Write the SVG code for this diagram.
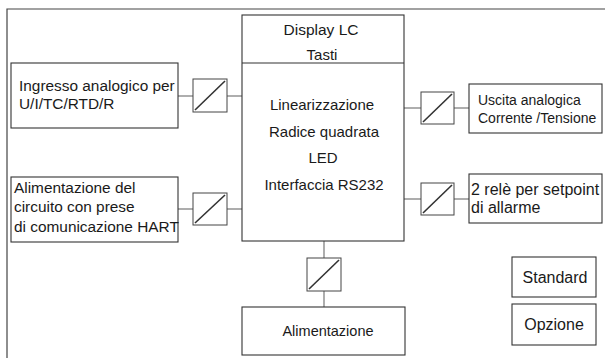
<svg xmlns="http://www.w3.org/2000/svg" width="605" height="358" viewBox="0 0 605 358">
<style>
.box{fill:#fff;stroke:#333;stroke-width:1.1}
.conv{fill:#fff;stroke:#444;stroke-width:1}
.diag{stroke:#333;stroke-width:1.6}
.wire{stroke:#777;stroke-width:1.2;fill:none}
.frame{stroke:#444;stroke-width:1.2;fill:none}
text{font-family:"Liberation Sans",Arial,sans-serif;fill:#1a1a1a}
.l{font-size:15.4px}
.r{font-size:14px}
.c{font-size:15px;text-anchor:middle}
.k{font-size:16px;text-anchor:middle}
</style>
<rect width="605" height="358" fill="#fff"/>
<path class="frame" d="M7 358V9H605"/>
<g id="connectors">
<line class="wire" x1="178" y1="96" x2="193" y2="96"/>
<line class="wire" x1="227" y1="96" x2="242" y2="96"/>
<line class="wire" x1="178" y1="209" x2="193" y2="209"/>
<line class="wire" x1="227" y1="209" x2="242" y2="209"/>
<line class="wire" x1="404" y1="108" x2="421" y2="108"/>
<line class="wire" x1="454" y1="108" x2="469" y2="108"/>
<line class="wire" x1="404" y1="199" x2="421" y2="199"/>
<line class="wire" x1="454" y1="199" x2="469" y2="199"/>
<line class="wire" x1="324" y1="241" x2="324" y2="258"/>
<line class="wire" x1="324" y1="291" x2="324" y2="307"/>
</g>
<g id="main">
<rect class="box" x="242" y="15" width="162" height="226"/>
<line class="box" x1="242" y1="63" x2="404" y2="63"/>
<text class="c" x="321" y="35" style="font-size:15.5px">Display LC</text>
<text class="c" x="322" y="60">Tasti</text>
<text class="c" x="322" y="110">Linearizzazione</text>
<text class="c" x="324" y="137">Radice quadrata</text>
<text class="c" x="323" y="163">LED</text>
<text class="c" x="324" y="190">Interfaccia RS232</text>
</g>
<g id="input">
<rect class="box" x="11" y="63" width="167" height="65"/>
<text class="l" x="19" y="91">Ingresso analogico per</text>
<text class="l" x="19" y="109">U/I/TC/RTD/R</text>
</g>
<g id="conv1">
<rect class="conv" x="193" y="79" width="34" height="33"/>
<line class="diag" x1="195" y1="110" x2="225" y2="81"/>
</g>
<g id="loop">
<rect class="box" x="11" y="177" width="167" height="65"/>
<text class="l" x="14" y="193">Alimentazione del</text>
<text class="l" x="14" y="212">circuito con prese</text>
<text class="l" x="14" y="232">di comunicazione HART</text>
</g>
<g id="conv2">
<rect class="conv" x="193" y="193" width="34" height="32"/>
<line class="diag" x1="195" y1="223" x2="225" y2="195"/>
</g>
<g id="conv3">
<rect class="conv" x="421" y="92" width="33" height="32"/>
<line class="diag" x1="423" y1="122" x2="452" y2="94"/>
</g>
<g id="output">
<rect class="box" x="469" y="84" width="133" height="49"/>
<text class="r" x="478" y="105">Uscita analogica</text>
<text class="r" x="478" y="123">Corrente /Tensione</text>
</g>
<g id="conv4">
<rect class="conv" x="421" y="183" width="33" height="32"/>
<line class="diag" x1="423" y1="213" x2="452" y2="185"/>
</g>
<g id="relay">
<rect class="box" x="469" y="174" width="133" height="49"/>
<text class="r" x="471" y="195" style="font-size:16px">2 relè per setpoint</text>
<text class="r" x="471" y="213" style="font-size:16px">di allarme</text>
</g>
<g id="conv5">
<rect class="conv" x="307" y="258" width="34" height="33"/>
<line class="diag" x1="309" y1="289" x2="339" y2="260"/>
</g>
<g id="power">
<rect class="box" x="242" y="307" width="163" height="48"/>
<text class="c" x="328" y="336" style="font-size:14.5px">Alimentazione</text>
</g>
<g id="standard">
<rect class="box" x="512" y="257" width="84" height="40"/>
<text class="k" x="555" y="283">Standard</text>
</g>
<g id="opzione">
<rect class="box" x="512" y="304" width="84" height="41"/>
<text class="k" x="554" y="330">Opzione</text>
</g>
</svg>
